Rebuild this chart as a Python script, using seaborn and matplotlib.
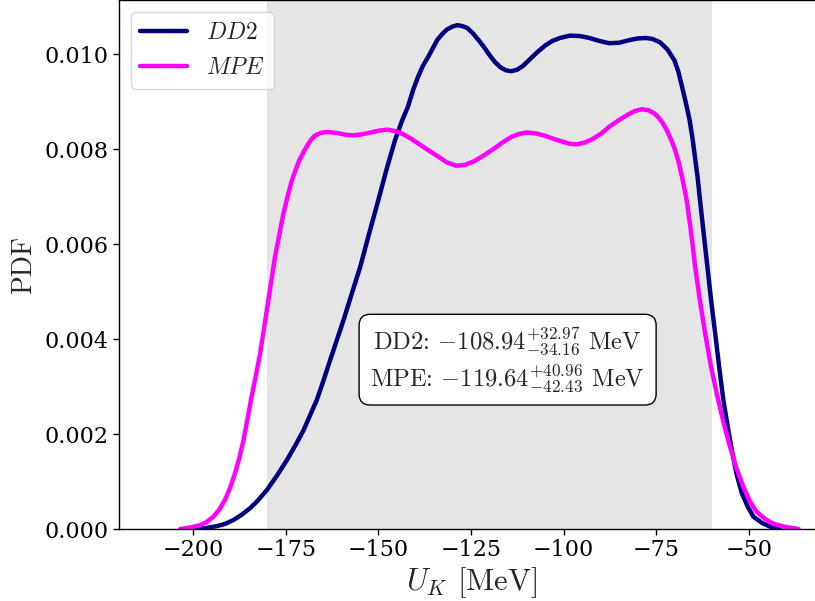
import numpy as np
import pandas as pd
import matplotlib
matplotlib.use('Agg')
import matplotlib.pyplot as plt
import seaborn as sns

# curve values (U_K in MeV, PDF)
dd2_x = [-200.0, -198.0, -196.5, -193.6, -191.3, -189.1, -186.9, -184.6, -182.4, -180.1,
         -177.4, -174.7, -172.4, -170.2, -168.4, -166.6, -164.8, -163.0, -161.2, -159.4,
         -157.2, -154.9, -152.5, -150.0, -147.7, -145.5, -143.7, -142.0, -140.6, -139.3,
         -138.0, -136.5, -134.1, -132.8, -131.5, -130.0, -128.7, -127.3, -126.0, -124.5,
         -123.0, -121.5, -120.0, -118.5, -117.0, -115.6, -114.2, -112.6, -111.0, -109.0,
         -107.0, -105.0, -103.0, -101.0, -98.3, -95.5, -93.0, -90.5, -87.7, -85.0,
         -82.0, -80.0, -77.8, -76.0, -74.0, -72.0, -70.1, -69.0, -68.0, -67.0,
         -66.0, -65.2, -64.5, -63.8, -63.2, -62.2, -61.2, -60.2, -59.1, -58.0,
         -56.9, -55.7, -54.6, -53.3, -51.9, -50.3, -48.8, -46.5, -44.3, -41.6]
dd2_y = [0.00000, 0.00001, 0.00002, 0.00006, 0.00011, 0.00019, 0.00030, 0.00044, 0.00061, 0.00082,
         0.00112, 0.00145, 0.00176, 0.00208, 0.00240, 0.00272, 0.00313, 0.00356, 0.00398, 0.00440,
         0.00495, 0.00552, 0.00622, 0.00693, 0.00760, 0.00819, 0.00858, 0.00890, 0.00925, 0.00952,
         0.00975, 0.00995, 0.01030, 0.01042, 0.01052, 0.01058, 0.01061, 0.01059, 0.01055, 0.01044,
         0.01030, 0.01015, 0.00998, 0.00983, 0.00972, 0.00966, 0.00964, 0.00967, 0.00975, 0.00990,
         0.01005, 0.01018, 0.01028, 0.01034, 0.01039, 0.01038, 0.01034, 0.01028, 0.01023, 0.01024,
         0.01030, 0.01033, 0.01034, 0.01032, 0.01025, 0.01010, 0.00987, 0.00962, 0.00930, 0.00897,
         0.00861, 0.00822, 0.00780, 0.00738, 0.00693, 0.00622, 0.00552, 0.00482, 0.00412, 0.00340,
         0.00272, 0.00215, 0.00166, 0.00115, 0.00075, 0.00047, 0.00026, 0.00013, 0.00005, 0.00000]

mpe_x = [-203.5, -200.8, -198.1, -196.3, -194.5, -192.9, -191.4, -190.0, -188.7, -187.5,
         -186.4, -185.3, -184.2, -183.0, -181.9, -181.0, -180.1, -179.0, -177.9, -176.7,
         -175.6, -174.5, -173.5, -172.4, -171.3, -170.1, -169.0, -168.1, -167.2, -165.6,
         -164.1, -162.3, -160.5, -158.7, -156.9, -154.5, -152.0, -149.8, -147.6, -145.5,
         -143.5, -141.4, -139.3, -136.6, -134.0, -131.5, -129.0, -126.5, -124.0, -121.3,
         -118.6, -116.3, -114.0, -112.0, -109.9, -107.5, -105.0, -102.5, -100.0, -98.2,
         -96.4, -94.2, -92.0, -89.8, -87.7, -85.3, -83.0, -80.9, -78.9, -77.2,
         -75.5, -74.3, -73.2, -72.1, -71.0, -70.0, -69.1, -68.0, -66.8, -65.6,
         -64.5, -63.2, -61.8, -60.3, -58.7, -56.9, -55.1, -53.3, -51.5, -49.7,
         -47.9, -45.6, -43.4, -40.0, -36.6]
mpe_y = [0.00000, 0.00003, 0.00008, 0.00015, 0.00026, 0.00041, 0.00061, 0.00087, 0.00117, 0.00150,
         0.00187, 0.00232, 0.00279, 0.00325, 0.00370, 0.00415, 0.00461, 0.00517, 0.00573, 0.00621,
         0.00665, 0.00700, 0.00730, 0.00755, 0.00777, 0.00795, 0.00810, 0.00820, 0.00828, 0.00834,
         0.00836, 0.00835, 0.00833, 0.00830, 0.00829, 0.00831, 0.00835, 0.00839, 0.00841, 0.00838,
         0.00832, 0.00823, 0.00812, 0.00798, 0.00785, 0.00772, 0.00765, 0.00767, 0.00775, 0.00788,
         0.00802, 0.00815, 0.00826, 0.00832, 0.00835, 0.00833, 0.00828, 0.00821, 0.00815, 0.00811,
         0.00810, 0.00814, 0.00822, 0.00833, 0.00847, 0.00860, 0.00871, 0.00880, 0.00884, 0.00882,
         0.00875, 0.00866, 0.00854, 0.00839, 0.00820, 0.00800, 0.00777, 0.00740, 0.00693, 0.00625,
         0.00552, 0.00480, 0.00412, 0.00345, 0.00286, 0.00226, 0.00173, 0.00127, 0.00089, 0.00058,
         0.00036, 0.00021, 0.00011, 0.00004, 0.00000]

band = (-180, -60)
summary = [r'DD2: $-108.94^{+32.97}_{-34.16}$ MeV',
           r'MPE: $-119.64^{+40.96}_{-42.43}$ MeV']

sns.set_theme(style='ticks')
plt.rcParams['font.family'] = ['DejaVu Serif']
plt.rcParams['mathtext.fontset'] = 'cm'
plt.rcParams['axes.edgecolor'] = 'black'
plt.rcParams['xtick.color'] = 'black'
plt.rcParams['ytick.color'] = 'black'
plt.rcParams['lines.solid_capstyle'] = 'round'

df = pd.concat([
    pd.DataFrame({'U': dd2_x, 'pdf': dd2_y, 'model': r'$DD2$'}),
    pd.DataFrame({'U': mpe_x, 'pdf': mpe_y, 'model': r'$MPE$'}),
])

fig = plt.figure(figsize=(8.15, 6.01), dpi=100)
ax = fig.add_axes([119/815, 1 - 529/601, 704/815, 529/601])

ax.axvspan(band[0], band[1], color='gray', alpha=0.2, lw=0)
sns.lineplot(data=df, x='U', y='pdf', hue='model', palette=['navy', 'magenta'],
             linewidth=3.2, ax=ax, sort=False)
for ln in ax.get_lines():
    ln.set_solid_joinstyle('round')

ax.set_xlim(-220, -30)
ax.set_ylim(0, 0.01114)
ax.set_xticks([-200, -175, -150, -125, -100, -75, -50])
ax.set_yticks([0, 0.002, 0.004, 0.006, 0.008, 0.010])
ax.yaxis.set_major_formatter(matplotlib.ticker.FormatStrFormatter('%.3f'))
ax.tick_params(labelsize=16, length=4, width=1)
for s in ax.spines.values():
    s.set_linewidth(1)
    s.set_color('black')

ax.set_xlabel(r'$U_K$ [MeV]', fontsize=22, labelpad=3, fontfamily='cmr10')
ax.set_ylabel('PDF', fontsize=20, labelpad=5, fontfamily='cmr10')

leg = ax.legend(loc='upper left', fontsize=17, handlelength=2.0, title=None)
for ln in leg.get_lines():
    ln.set_linewidth(3.2)

ax.text(0.552, 0.32, summary[0] + '\n' + summary[1], transform=ax.transAxes,
        ha='center', va='center', fontsize=17.7, fontfamily='cmr10',
        bbox=dict(boxstyle='round,pad=0.45', facecolor='white', edgecolor='black', lw=1))

fig.savefig('out.png', dpi=100)
